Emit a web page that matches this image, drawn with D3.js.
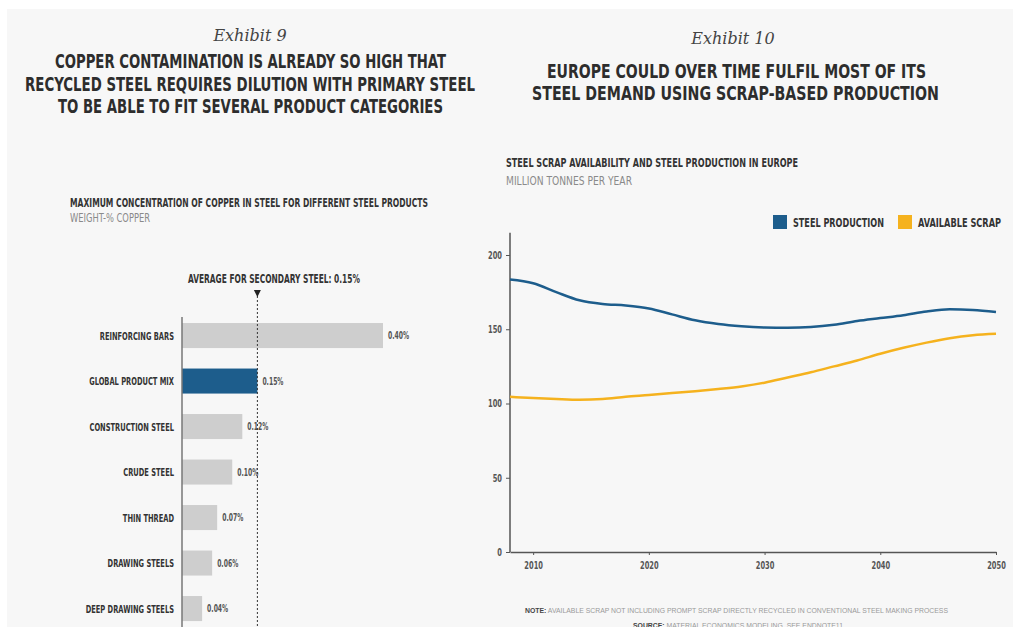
<!DOCTYPE html>
<html>
<head>
<meta charset="utf-8">
<script src="https://cdn.jsdelivr.net/npm/d3@7"></script>
<style>
  body { margin: 0; background: #fff; }
  svg text { font-family: 'Liberation Sans Narrow', 'DejaVu Sans Condensed', Roboto, sans-serif; }
</style>
</head>
<body>
<svg id="chart" width="1013" height="627"></svg>
<script>
// ---- exhibit 9 : copper in steel ----
var products = ["REINFORCING BARS", "GLOBAL PRODUCT MIX", "CONSTRUCTION STEEL",
                "CRUDE STEEL", "THIN THREAD", "DRAWING STEELS", "DEEP DRAWING STEELS"];
var copperMax = [0.40, 0.15, 0.12, 0.10, 0.07, 0.06, 0.04];
var copperLabels = ["0.40%", "0.15%", "0.12%", "0.10%", "0.07%", "0.06%", "0.04%"];
var highlight = "GLOBAL PRODUCT MIX";
var secondaryAvg = 0.15;

// ---- exhibit 10 : scrap vs production, Mt per year ----
var years = [2008, 2010, 2012, 2014, 2016, 2018, 2020, 2022, 2024, 2026, 2028,
             2030, 2032, 2034, 2036, 2038, 2040, 2042, 2044, 2046, 2048, 2050];
var steelProduction = [183.5, 181, 175, 169.5, 167, 166, 164, 160, 156, 153.5, 152,
                       151.2, 151, 151.5, 153, 155.5, 157.5, 159.5, 162, 163.5, 163, 161.6];
var availableScrap = [104.5, 103.7, 103, 102.5, 103, 104.5, 105.7, 107, 108.3, 109.8, 111.5,
                      114, 117.5, 121, 125, 129, 133.5, 137.5, 141, 144, 146, 147];
var seriesNames = ["STEEL PRODUCTION", "AVAILABLE SCRAP"];
var yTicks = [0, 50, 100, 150, 200];
var xTicks = [2010, 2020, 2030, 2040, 2050];

var blue = "#1d5d8c", orange = "#f5b21e", grey = "#cecece", ink = "#2d2d2d";

var svg = d3.select("#chart");

// page background
svg.append("rect").attr("x", 7).attr("y", 9).attr("width", 1006).attr("height", 618)
  .attr("fill", "#f7f7f7");

// squeeze text to a given pixel width (the reference face is very condensed)
function fit(sel, w) {
  sel.attr("textLength", w).attr("lengthAdjust", "spacingAndGlyphs");
  return sel;
}
var k = 1;
function squeeze(sel) {
  sel.each(function() {
    var w = this.getComputedTextLength();
    d3.select(this).attr("textLength", w * k).attr("lengthAdjust", "spacingAndGlyphs");
  });
}

function heading(x, y, txt, w, size, weight, color) {
  var t = svg.append("text").attr("x", x).attr("y", y)
    .attr("text-anchor", "middle")
    .attr("font-size", size).attr("font-weight", weight || "bold")
    .attr("fill", color || ink).text(txt);
  if (w) fit(t, w);
  return t;
}

// ---------- titles ----------
svg.append("text").attr("x", 250).attr("y", 41).attr("text-anchor", "middle")
  .style("font-family", "'DejaVu Serif', 'Liberation Serif', serif")
  .attr("font-style", "italic").attr("font-size", 16).attr("fill", "#444")
  .text("Exhibit 9");
svg.append("text").attr("x", 733).attr("y", 44).attr("text-anchor", "middle")
  .style("font-family", "'DejaVu Serif', 'Liberation Serif', serif")
  .attr("font-style", "italic").attr("font-size", 16).attr("fill", "#444")
  .text("Exhibit 10");

heading(250.5, 68, "COPPER CONTAMINATION IS ALREADY SO HIGH THAT", 391, 20);
heading(250, 91, "RECYCLED STEEL REQUIRES DILUTION WITH PRIMARY STEEL", 450, 20);
heading(250.5, 113, "TO BE ABLE TO FIT SEVERAL PRODUCT CATEGORIES", 385, 20);
heading(736.5, 78, "EUROPE COULD OVER TIME FULFIL MOST OF ITS", 379, 20);
heading(735.5, 100, "STEEL DEMAND USING SCRAP-BASED PRODUCTION", 407, 20);

// sub headings (the first one also calibrates the squeeze factor)
var sub1 = svg.append("text").attr("x", 70).attr("y", 207)
  .attr("font-size", 12.5).attr("font-weight", "bold").attr("fill", "#333")
  .text("MAXIMUM CONCENTRATION OF COPPER IN STEEL FOR DIFFERENT STEEL PRODUCTS");
k = 358 / sub1.node().getComputedTextLength();
fit(sub1, 358);
fit(svg.append("text").attr("x", 70).attr("y", 222).attr("font-size", 12.5)
  .attr("fill", "#8a8a8a").text("WEIGHT-% COPPER"), 80);

fit(svg.append("text").attr("x", 506).attr("y", 167).attr("font-size", 12.5)
  .attr("font-weight", "bold").attr("fill", "#333")
  .text("STEEL SCRAP AVAILABILITY AND STEEL PRODUCTION IN EUROPE"), 292);
fit(svg.append("text").attr("x", 506).attr("y", 185).attr("font-size", 12.5)
  .attr("fill", "#8a8a8a").text("MILLION TONNES PER YEAR"), 126);

// ---------- exhibit 9 bars ----------
var bx = d3.scaleLinear().domain([0, 0.4]).range([182, 383]);
var by = d3.scaleBand().domain(products).range([312.8, 631.3])
  .paddingInner(0.45).paddingOuter(0.225);

var barRows = products.map(function(p, i) {
  return { name: p, value: copperMax[i], label: copperLabels[i] };
});

var bars = svg.append("g");
bars.selectAll("rect").data(barRows).enter().append("rect")
  .attr("x", bx(0)).attr("y", function(d) { return by(d.name); })
  .attr("width", function(d) { return bx(d.value) - bx(0); })
  .attr("height", by.bandwidth())
  .attr("fill", function(d) { return d.name === highlight ? blue : grey; });

var catText = bars.selectAll(".cat").data(barRows).enter().append("text")
  .attr("class", "cat")
  .attr("x", 174).attr("y", function(d) { return by(d.name) + by.bandwidth() / 2 + 4; })
  .attr("text-anchor", "end").attr("font-size", 11).attr("font-weight", "bold")
  .attr("fill", "#333").text(function(d) { return d.name; });
squeeze(catText);

var valText = bars.selectAll(".val").data(barRows).enter().append("text")
  .attr("class", "val")
  .attr("x", function(d) { return bx(d.value) + 5; })
  .attr("y", function(d) { return by(d.name) + by.bandwidth() / 2 + 3.5; })
  .attr("font-size", 10).attr("font-weight", "bold").attr("fill", "#555")
  .text(function(d) { return d.label; });
squeeze(valText);

// category axis line
bars.append("line").attr("x1", bx(0)).attr("x2", bx(0)).attr("y1", 317).attr("y2", 627)
  .attr("stroke", "#777").attr("stroke-width", 1.5);

// secondary steel average marker
var ax = bx(secondaryAvg);
bars.append("line").attr("x1", ax).attr("x2", ax).attr("y1", 296).attr("y2", 627)
  .attr("stroke", "#333").attr("stroke-width", 1).attr("stroke-dasharray", "2,2");
bars.append("path")
  .attr("d", "M" + (ax - 3.5) + ",290 L" + (ax + 3.5) + ",290 L" + ax + ",297 Z")
  .attr("fill", "#222");
fit(bars.append("text").attr("x", 274).attr("y", 283).attr("text-anchor", "middle")
  .attr("font-size", 12).attr("font-weight", "bold").attr("fill", "#333")
  .text("AVERAGE FOR SECONDARY STEEL: 0.15%"), 172);

// ---------- exhibit 10 lines ----------
var lx = d3.scaleLinear().domain([2008, 2050]).range([510, 996]);
var ly = d3.scaleLinear().domain([0, 200]).range([552, 255]);

var plot = svg.append("g");

var yAxis = plot.append("g").attr("transform", "translate(" + lx(2008) + ",0)")
  .call(d3.axisLeft(ly).tickValues(yTicks).tickSize(4).tickSizeOuter(0).tickPadding(4));
yAxis.select(".domain").remove();
plot.append("line").attr("x1", lx(2008)).attr("x2", lx(2008))
  .attr("y1", ly(215)).attr("y2", ly(0)).attr("stroke", "#555").attr("stroke-width", 1.5);

var xAxis = plot.append("g").attr("transform", "translate(0," + ly(0) + ")")
  .call(d3.axisBottom(lx).tickValues(xTicks).tickFormat(d3.format("d"))
    .tickSize(3).tickSizeOuter(0).tickPadding(6));
xAxis.select(".domain").attr("stroke", "#555").attr("stroke-width", 1.5);

[yAxis, xAxis].forEach(function(a) {
  a.selectAll(".tick line").attr("stroke", "#555");
  a.selectAll("text").attr("font-size", 11).attr("font-weight", "bold")
    .attr("fill", "#555").style("font-family", null);
  squeeze(a.selectAll("text"));
});
yAxis.selectAll("text").attr("font-size", 10.5);

var line = d3.line()
  .x(function(d) { return lx(d[0]); })
  .y(function(d) { return ly(d[1]); })
  .curve(d3.curveMonotoneX);

var series = [
  { name: seriesNames[0], color: blue, pts: years.map(function(y, i) { return [y, steelProduction[i]]; }) },
  { name: seriesNames[1], color: orange, pts: years.map(function(y, i) { return [y, availableScrap[i]]; }) }
];

plot.selectAll(".series").data(series).enter().append("path")
  .attr("class", "series")
  .attr("d", function(d) { return line(d.pts); })
  .attr("fill", "none").attr("stroke", function(d) { return d.color; })
  .attr("stroke-width", 2.5);

// legend
var legendX = [773, 898], legendW = [91, 83];
var lg = svg.append("g").selectAll("g").data(series).enter().append("g")
  .attr("transform", function(d, i) { return "translate(" + legendX[i] + ",215)"; });
lg.append("rect").attr("width", 14).attr("height", 14)
  .attr("fill", function(d) { return d.color; });
lg.append("text").attr("x", 20).attr("y", 12).attr("font-size", 12.5)
  .attr("font-weight", "bold").attr("fill", "#333")
  .text(function(d) { return d.name; })
  .each(function(d, i) { fit(d3.select(this), legendW[i]); });

// footnotes
var note = svg.append("text").attr("x", 525).attr("y", 612.5).attr("font-size", 7)
  .attr("fill", "#9a9a9a");
note.append("tspan").attr("font-weight", "bold").attr("fill", "#444").text("NOTE:");
note.append("tspan").text(" AVAILABLE SCRAP NOT INCLUDING PROMPT SCRAP DIRECTLY RECYCLED IN CONVENTIONAL STEEL MAKING PROCESS");
note.style("font-family", "'Liberation Sans', Arial, sans-serif");
fit(note, 423);

var src = svg.append("text").attr("x", 633).attr("y", 628).attr("font-size", 7)
  .attr("fill", "#9a9a9a").style("font-family", "'Liberation Sans', Arial, sans-serif");
src.append("tspan").attr("font-weight", "bold").attr("fill", "#444").text("SOURCE:");
src.append("tspan").text(" MATERIAL ECONOMICS MODELING, SEE ENDNOTE11");
fit(src, 210);
</script>
</body>
</html>
